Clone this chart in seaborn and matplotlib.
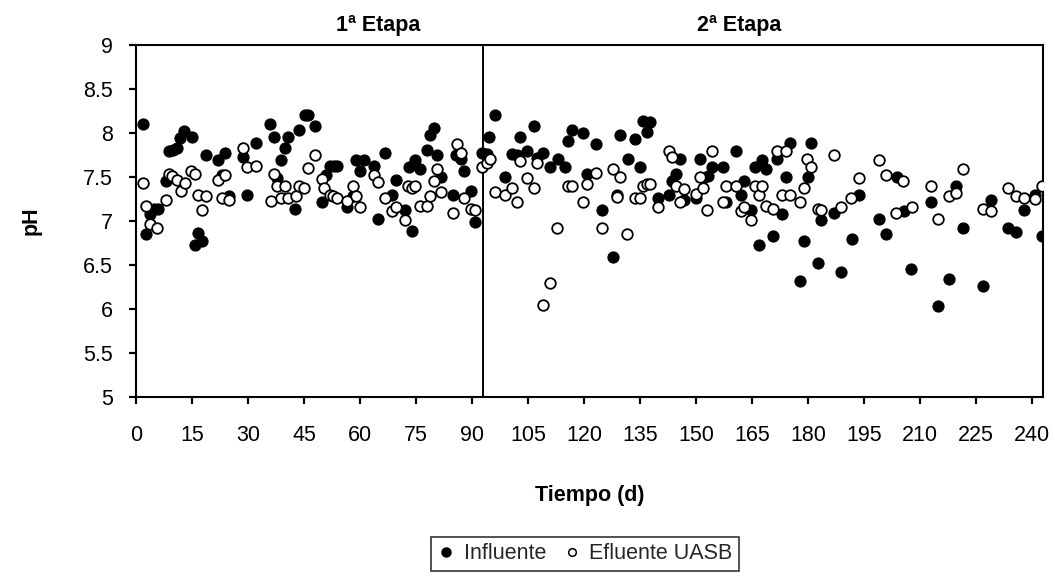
import matplotlib
matplotlib.use("Agg")
import matplotlib.pyplot as plt
import seaborn as sns
import pandas as pd
from matplotlib.lines import Line2D

# ---------------- data ----------------
inf_day = [1.9, 2.6, 3.7, 4.8, 5.7, 7.9, 8.8, 9.9, 10.8, 11.7, 12.8, 14.8, 15.7, 16.6, 17.5,
           18.6, 22.0, 23.1, 23.8, 24.9, 28.7, 29.7, 32.1, 35.8, 36.9, 37.8, 38.7, 39.8, 40.7,
           42.5, 43.6, 45.2, 46.1, 47.9, 49.7, 50.8, 51.9, 53.0, 53.8, 56.5, 58.0, 58.9, 59.9,
           61.1, 63.8, 64.8, 66.6, 68.6, 69.6, 72.0, 73.1, 73.9, 74.8, 76.0, 77.8, 78.7, 79.7,
           80.6, 81.6, 84.9, 85.8, 86.9, 87.9, 89.8, 90.7, 92.7, 93.9, 94.6, 96.1, 98.9, 100.6,
           101.9, 102.8, 104.7, 106.6, 107.5, 109.0, 111.0, 112.9, 114.8, 115.7, 116.8, 119.6,
           120.7, 123.1, 124.8, 127.8, 128.9, 129.7, 131.8, 133.6, 134.9, 135.8, 136.9, 137.8,
           139.8, 142.7, 143.6, 144.6, 145.6, 146.7, 149.9, 151.0, 151.9, 153.3, 154.3, 157.2,
           158.1, 160.6, 162.0, 162.9, 164.8, 165.7, 166.8, 167.8, 168.7, 170.6, 171.7, 173.1,
           174.0, 175.1, 177.8, 178.9, 179.9, 180.7, 182.7, 183.6, 187.0, 189.0, 191.8, 193.7,
           199.0, 201.0, 203.9, 205.7, 207.7, 212.9, 214.9, 217.8, 219.8, 221.7, 226.9, 229.0,
           233.6, 235.7, 237.9, 240.9, 242.8]
inf_ph = [8.10, 6.85, 7.08, 7.14, 7.14, 7.45, 7.79, 7.81, 7.83, 7.94, 8.02, 7.95, 6.73, 6.86, 6.77,
          7.75, 7.69, 7.52, 7.77, 7.28, 7.73, 7.30, 7.89, 8.10, 7.95, 7.49, 7.69, 7.83, 7.96,
          7.14, 8.03, 8.20, 8.20, 8.08, 7.22, 7.52, 7.63, 7.63, 7.63, 7.16, 7.28, 7.69, 7.57,
          7.69, 7.63, 7.02, 7.77, 7.30, 7.47, 7.13, 7.61, 6.89, 7.69, 7.59, 7.81, 7.98, 8.06,
          7.75, 7.50, 7.30, 7.75, 7.70, 7.57, 7.34, 6.99, 7.77, 7.76, 7.96, 8.20, 7.50, 7.76,
          7.75, 7.95, 7.79, 8.08, 7.72, 7.77, 7.61, 7.71, 7.61, 7.91, 8.03, 8.00,
          7.53, 7.87, 7.12, 6.59, 7.30, 7.98, 7.70, 7.93, 7.61, 8.14, 8.01, 8.12,
          7.26, 7.30, 7.45, 7.53, 7.70, 7.24, 7.26, 7.70, 7.49, 7.51, 7.61, 7.61,
          7.22, 7.79, 7.30, 7.46, 7.12, 7.61, 6.73, 7.69, 7.59, 6.83, 7.70, 7.08,
          7.50, 7.89, 6.32, 6.77, 7.50, 7.89, 6.52, 7.01, 7.09, 6.42, 6.79, 7.30,
          7.02, 6.85, 7.50, 7.11, 6.46, 7.22, 6.03, 6.34, 7.40, 6.92, 6.26, 7.24,
          6.92, 6.87, 7.12, 7.30, 6.83]

efl_day = [1.9, 2.6, 3.7, 5.6, 8.0, 8.8, 9.7, 10.8, 11.9, 13.0, 14.6, 15.7, 16.6, 17.5, 18.7,
           22.0, 22.9, 23.8, 24.9, 28.7, 29.7, 32.1, 36.0, 36.9, 37.8, 38.7, 39.8, 40.7, 42.7,
           43.6, 44.9, 45.9, 47.9, 49.7, 50.4, 51.9, 52.8, 53.8, 56.5, 58.0, 59.0, 59.9, 63.8,
           64.8, 66.6, 68.6, 69.6, 72.0, 72.9, 73.8, 74.8, 76.0, 78.0, 78.7, 79.7, 80.6, 81.6,
           84.9, 86.0, 86.9, 87.9, 89.6, 90.7, 92.7, 94.0, 94.9, 96.1, 98.9, 100.6, 101.9,
           102.8, 104.7, 106.6, 107.5, 109.1, 111.0, 112.8, 115.7, 116.8, 119.6, 120.7, 123.1,
           124.8, 127.8, 128.9, 129.7, 131.6, 133.6, 134.9, 135.8, 136.9, 137.8, 139.8, 142.7,
           143.6, 144.6, 145.6, 146.7, 149.9, 151.0, 151.9, 153.0, 154.4, 157.2, 158.1, 160.6,
           162.0, 162.9, 164.8, 165.7, 166.8, 167.8, 168.7, 170.6, 171.7, 173.1, 174.0, 175.1,
           177.8, 178.9, 179.8, 180.7, 182.7, 183.6, 187.0, 189.0, 191.6, 193.7, 199.0, 200.8,
           203.5, 205.6, 207.9, 212.9, 214.9, 217.8, 219.8, 221.7, 226.9, 229.0, 233.6, 235.7,
           237.9, 240.9, 242.8]
efl_ph = [7.43, 7.17, 6.97, 6.92, 7.24, 7.53, 7.51, 7.47, 7.34, 7.43, 7.57, 7.53, 7.30, 7.12, 7.28,
          7.47, 7.26, 7.52, 7.24, 7.83, 7.61, 7.63, 7.23, 7.53, 7.40, 7.26, 7.40, 7.26, 7.28,
          7.40, 7.38, 7.60, 7.75, 7.48, 7.37, 7.30, 7.28, 7.26, 7.23, 7.40, 7.28, 7.16, 7.52,
          7.44, 7.26, 7.11, 7.16, 7.01, 7.40, 7.38, 7.40, 7.17, 7.17, 7.28, 7.45, 7.59, 7.33,
          7.09, 7.87, 7.77, 7.26, 7.14, 7.13, 7.61, 7.66, 7.70, 7.33, 7.30, 7.38, 7.22,
          7.68, 7.49, 7.38, 7.66, 6.05, 6.30, 6.92, 7.40, 7.40, 7.22, 7.42, 7.55,
          6.92, 7.59, 7.27, 7.50, 6.85, 7.26, 7.26, 7.40, 7.42, 7.42, 7.16, 7.80,
          7.73, 7.40, 7.22, 7.36, 7.31, 7.50, 7.37, 7.12, 7.79, 7.22, 7.40, 7.40,
          7.11, 7.16, 7.01, 7.40, 7.30, 7.40, 7.17, 7.14, 7.80, 7.30, 7.79, 7.30,
          7.22, 7.38, 7.70, 7.61, 7.14, 7.13, 7.75, 7.16, 7.26, 7.49, 7.69, 7.52,
          7.09, 7.45, 7.16, 7.40, 7.02, 7.28, 7.32, 7.59, 7.14, 7.11, 7.38, 7.28,
          7.26, 7.25, 7.40]

x_ticks = list(range(0, 241, 15))
y_ticks = [5, 5.5, 6, 6.5, 7, 7.5, 8, 8.5, 9]
y_tick_labels = ["5", "5.5", "6", "6.5", "7", "7.5", "8", "8.5", "9"]
stage_split = 93
stage_labels = ["1ª Etapa", "2ª Etapa"]
stage_label_x = [64.7, 161.7]
series_names = ["Influente", "Efluente UASB"]

# ---------------- plot ----------------
sns.set_style("ticks")
plt.rcParams["font.family"] = ["Liberation Sans", "DejaVu Sans"]

fig = plt.figure(figsize=(10.55, 5.84), dpi=100)
ax = fig.add_axes([0.1292, 0.3202, 0.8594, 0.6027])

df_inf = pd.DataFrame({"dia": inf_day, "pH": inf_ph})
df_efl = pd.DataFrame({"dia": efl_day, "pH": efl_ph})

sns.scatterplot(data=df_inf, x="dia", y="pH", ax=ax, marker="o", s=64,
                facecolor="black", edgecolor="black", linewidth=0.8, zorder=3)
sns.scatterplot(data=df_efl, x="dia", y="pH", ax=ax, marker="o", s=58,
                facecolor="white", edgecolor="black", linewidth=1.3, zorder=4)

ax.axvline(stage_split, color="black", lw=1.4, zorder=2)

ax.set_xlim(0, 243)
ax.set_ylim(5, 9)
ax.set_xticks(x_ticks)
ax.set_xticklabels([str(t) for t in x_ticks])
ax.set_yticks(y_ticks)
ax.set_yticklabels(y_tick_labels)
ax.tick_params(axis="both", direction="out", length=5, width=1.6, labelsize=15.5,
               color="black", labelcolor="black")
ax.tick_params(axis="y", pad=12)
ax.tick_params(axis="x", pad=15)

for sp in ax.spines.values():
    sp.set_visible(True)
    sp.set_color("black")
    sp.set_linewidth(1.5)

ax.set_xlabel("Tiempo (d)", fontsize=15.5, fontweight="bold", color="black")
ax.xaxis.set_label_coords(0.5, -0.281)
ax.xaxis.label.set_va("center")
ax.set_ylabel("pH", fontsize=15.5, fontweight="bold", color="black")
ax.yaxis.set_label_coords(-0.116, 0.5)
ax.yaxis.label.set_va("center")

for lbl, xv in zip(stage_labels, stage_label_x):
    ax.text(xv, 1.055, lbl, transform=ax.get_xaxis_transform(), ha="center", va="center",
            fontsize=15.5, fontweight="bold", color="black")

handles = [
    Line2D([], [], ls="none", marker="o", markersize=6.5, markerfacecolor="black",
           markeredgecolor="black"),
    Line2D([], [], ls="none", marker="o", markersize=5.5, markerfacecolor="white",
           markeredgecolor="black", markeredgewidth=1.1),
]
leg = fig.legend(handles, series_names, loc="center", bbox_to_anchor=(0.5545, 0.052),
                 ncol=2, frameon=True, fancybox=False, fontsize=15.5, handlelength=0.8,
                 handletextpad=0.4, columnspacing=0.8, borderpad=0.3, borderaxespad=0)
leg.get_frame().set_edgecolor("black")
leg.get_frame().set_linewidth(1.2)

fig.savefig("out.png", dpi=100)
